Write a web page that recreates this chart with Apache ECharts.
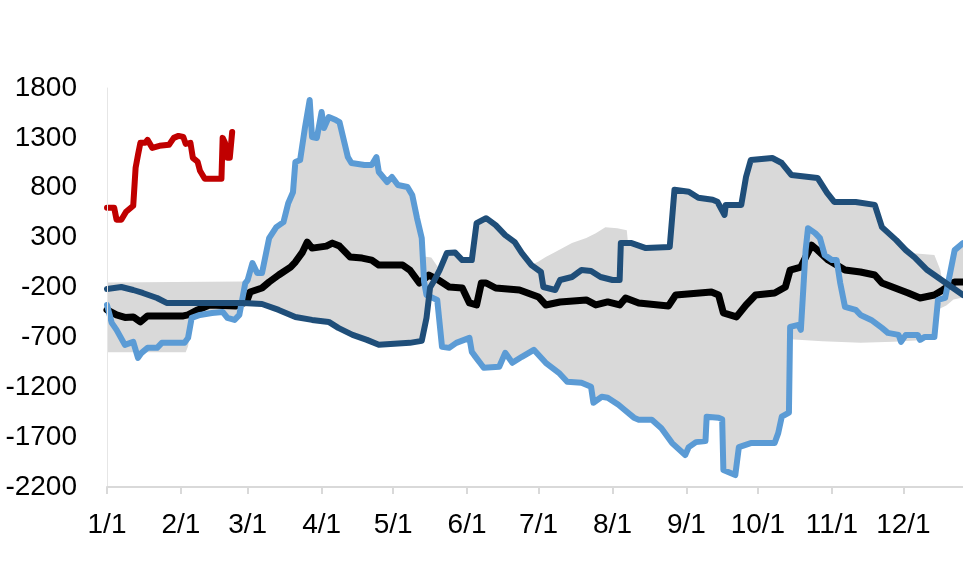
<!DOCTYPE html>
<html>
<head>
<meta charset="utf-8">
<script src="https://cdn.jsdelivr.net/npm/echarts@6/dist/echarts.min.js"></script>
<style>
  html, body { margin: 0; padding: 0; background: #fff; }
  #chart { width: 963px; height: 581px; }
</style>
</head>
<body>
<div id="chart"></div>
<script>
// day-of-year positions of month starts and their labels
const monthStarts = [0, 31, 59, 90, 120, 151, 181, 212, 243, 273, 304, 334];
const monthLabels = ['1/1', '2/1', '3/1', '4/1', '5/1', '6/1', '7/1', '8/1', '9/1', '10/1', '11/1', '12/1'];
const yTicks = [-2200, -1700, -1200, -700, -200, 300, 800, 1300, 1800];

// grey range band (upper / lower edge), [day, value]
const bandTop = [[0,-150],[57,-140],[58,-140],[59,-125],[61,45],[63,-40],[65,-40],[68,295],[71,405],[74,455],[76,645],[78,755],[79,1058],[81,1078],[83,1399],[85,1680],[86,1309],[88,1299],[90,1559],[91,1399],[93,1509],[96,1479],[97.5,1459],[99,1309],[101,1108],[102.5,1048],[108,1028],[111,1028],[113,1108],[114,958],[117.5,858],[119.5,908],[122,828],[126,808],[128,728],[130,497],[132,295],[133,110],[136,100],[139.5,-20],[142.5,145],[146,150],[149,75],[153,75],[155,445],[159,495],[163,425],[167,325],[171,255],[174,145],[178,25],[181,60],[184,105],[188,155],[195,245],[201,295],[205,345],[209,405],[214,395],[218,375],[218.5,245],[220,245],[226,195],[236,205],[238,780],[244,760],[248,700],[254,680],[256,660],[259.5,627],[266,627],[268,908],[270,1078],[279,1098],[283,1048],[287,928],[298,898],[302,748],[305,658],[314,658],[322,628],[325,405],[331,275],[335,175],[337,145],[347,125],[349.5,-25],[351.5,-295],[354,-5],[355.5,175],[359,245]];
const bandBottom = [[0,-850],[33,-850],[34,-790],[35.5,-505],[39,-475],[44,-455],[48.5,-445],[50.5,-505],[53.5,-525],[55.5,-475],[57,-380],[58,-360],[65,-365],[72,-425],[79,-495],[86,-525],[93,-545],[97,-605],[103,-675],[109,-725],[114,-775],[127,-755],[132,-735],[134,-505],[135,-330],[138.5,-325],[140.5,-795],[143.5,-805],[146.5,-755],[152,-705],[153,-900],[155,-960],[158,-1005],[164.5,-995],[167,-855],[170,-955],[174,-895],[179,-825],[184,-955],[189.5,-1055],[193,-1145],[199,-1155],[203,-1195],[204,-1355],[207.5,-1295],[210,-1305],[214.5,-1375],[217,-1425],[221,-1505],[223,-1525],[228.5,-1525],[232.5,-1610],[237,-1760],[242.5,-1880],[244,-1800],[247,-1750],[251,-1740],[251.5,-1495],[256.5,-1505],[258,-1520],[258.5,-2030],[263.5,-2080],[265,-1800],[270,-1760],[280,-1760],[281.5,-1660],[283,-1495],[286,-1455],[286.5,-720],[300,-740],[316,-755],[330,-745],[341,-730],[347,-715],[348.5,-420],[352,-380],[355,-320],[359,-300]];

// black line (average)
const avgLine = [[0,-425],[4,-475],[7.5,-500],[11,-495],[14,-545],[17,-485],[32,-485],[34,-475],[38,-425],[43,-375],[54,-385],[58.5,-345],[60,-245],[65,-205],[68,-145],[72,-75],[77,5],[79,55],[82,155],[84,255],[86,195],[92,215],[94.5,245],[97.5,215],[102,105],[107,95],[111,75],[114,25],[124,25],[127,-25],[131,-155],[135,-75],[139,-125],[143.5,-195],[149,-205],[152,-355],[155,-375],[157,-155],[159,-155],[163,-205],[173,-225],[181,-295],[184,-375],[190,-345],[201,-325],[205,-375],[210,-345],[215,-375],[217.5,-305],[223,-355],[235.5,-385],[238.5,-275],[253.5,-245],[256.5,-275],[258.5,-455],[264,-495],[268,-375],[272,-275],[280,-255],[284.5,-195],[286.5,-25],[291,5],[295.5,225],[298,175],[302.5,75],[309.5,-25],[316,-45],[322,-75],[325,-155],[330.5,-205],[336,-255],[341,-305],[347,-275],[350.5,-225],[355.5,-145],[359,-145]];

// dark blue line
const darkLine = [[0,-215],[6,-195],[11,-225],[15,-255],[21,-305],[25,-355],[57,-355],[65,-365],[72,-425],[79,-495],[86,-525],[93,-545],[97,-605],[103,-675],[109,-725],[114,-775],[127,-755],[132,-735],[134,-505],[135.5,-200],[137,-140],[139.5,-25],[142.5,145],[146,150],[149,75],[153,75],[155,445],[159,495],[163,425],[167,325],[171,255],[174,145],[178,25],[182,-45],[183,-195],[188,-225],[190,-125],[195,-95],[199,-25],[203,-35],[207,-95],[212,-125],[215,-125],[215.5,245],[220,245],[226,195],[236,205],[238,780],[244,760],[248,700],[254,680],[256,660],[259,527],[259.5,627],[266,627],[268,908],[270,1078],[279,1098],[283,1048],[287,928],[298,898],[302,748],[305,658],[314,658],[322,628],[325,405],[331,275],[335,175],[339,95],[344,-25],[350,-125],[359,-275]];

// light blue line
const lightLine = [[0,-375],[2,-555],[4,-625],[7.5,-775],[11,-745],[13,-905],[14.5,-855],[17,-805],[21,-805],[23,-755],[32.5,-755],[34,-705],[35.5,-505],[39,-475],[44,-455],[48.5,-445],[50.5,-505],[53.5,-525],[55.5,-475],[58,-155],[59,-125],[61,45],[63,-55],[65,-55],[68,295],[71,405],[74,455],[76,645],[78,755],[79,1058],[81,1078],[83,1399],[85,1680],[86,1309],[88,1299],[90,1559],[91,1399],[93,1509],[96,1479],[97.5,1459],[99,1309],[101,1108],[102.5,1048],[108,1028],[111,1028],[113,1108],[114,958],[117.5,858],[119.5,908],[122,828],[126,808],[128,728],[130,497],[132,295],[133,-145],[134,-275],[138.5,-325],[140.5,-795],[143.5,-805],[146.5,-755],[152,-705],[153,-845],[158,-1005],[164.5,-995],[167,-855],[170,-955],[174,-895],[179,-825],[184,-955],[189.5,-1055],[193,-1145],[199,-1155],[203,-1195],[204,-1355],[207.5,-1295],[210,-1305],[214.5,-1375],[217,-1425],[221,-1505],[223,-1525],[228.5,-1525],[232.5,-1610],[237,-1760],[242.5,-1880],[244,-1800],[247,-1750],[251,-1740],[251.5,-1495],[256.5,-1505],[258,-1520],[258.5,-2030],[263.5,-2080],[265,-1800],[270,-1760],[280,-1760],[281.5,-1660],[283,-1495],[286,-1455],[286.5,-595],[290,-575],[291,-625],[293,175],[294,395],[297,345],[299,295],[301,125],[304,75],[306,75],[307.5,-155],[309.5,-395],[314,-425],[316,-475],[320.5,-525],[325,-605],[327.5,-655],[332,-675],[333,-745],[335,-675],[340,-675],[341,-725],[343,-695],[347,-695],[348.5,-325],[351.5,-305],[354,-5],[355.5,175],[359,245]];

// red line (current year)
const currentLine = [[0,600],[3,600],[4,480],[6,480],[8,560],[10,600],[11,620],[12,1000],[13,1130],[14,1250],[16,1250],[17,1280],[19,1200],[22,1220],[26,1230],[28,1300],[30,1320],[32,1310],[33,1240],[35,1250],[36,1100],[38,1060],[39,970],[41,890],[48,890],[48.5,1300],[49.5,1250],[50.5,1100],[51.5,1100],[52.5,1360]];

const chart = echarts.init(document.getElementById('chart'), null, { renderer: 'canvas' });

const lineSeries = (data, color, width) => ({
  type: 'line',
  data: data,
  showSymbol: false,
  silent: true,
  lineStyle: { color: color, width: width, cap: 'round', join: 'round' }
});

const option = {
  animation: false,
  backgroundColor: '#fff',
  textStyle: { fontFamily: 'Liberation Sans, Arial, sans-serif' },
  grid: { left: 107, right: 0, top: 88, bottom: 94 },
  xAxis: {
    type: 'value',
    min: 0,
    max: 359,
    z: 10,
    splitLine: { show: false },
    axisLine: { show: true, onZero: false, lineStyle: { color: '#d9d9d9', width: 2 } },
    axisTick: { show: true, customValues: monthStarts, length: 7, lineStyle: { color: '#d9d9d9', width: 2 } },
    axisLabel: {
      customValues: monthStarts,
      margin: 24,
      fontSize: 28,
      color: '#000',
      formatter: (v) => monthLabels[monthStarts.indexOf(v)]
    }
  },
  yAxis: {
    type: 'value',
    min: -2200,
    max: 1800,
    z: 10,
    splitLine: { show: false },
    axisLine: { show: true, onZero: false, lineStyle: { color: '#e6e6e6', width: 1 } },
    axisTick: { show: false },
    axisLabel: {
      customValues: yTicks,
      margin: 30,
      fontSize: 28,
      color: '#000',
      formatter: (v) => String(v)
    }
  },
  series: [
    {
      type: 'line',
      data: bandTop,
      showSymbol: false,
      silent: true,
      lineStyle: { width: 0 },
      areaStyle: { color: '#d9d9d9', opacity: 1, origin: 'start' }
    },
    {
      type: 'line',
      data: bandBottom,
      showSymbol: false,
      silent: true,
      lineStyle: { width: 0 },
      areaStyle: { color: '#ffffff', opacity: 1, origin: 'start' }
    },
    lineSeries(avgLine, '#000000', 7),
    lineSeries(lightLine, '#5b9bd5', 6),
    lineSeries(darkLine, '#1f4e79', 6),
    lineSeries(currentLine, '#c00000', 6)
  ]
};

chart.setOption(option);
</script>
</body>
</html>
